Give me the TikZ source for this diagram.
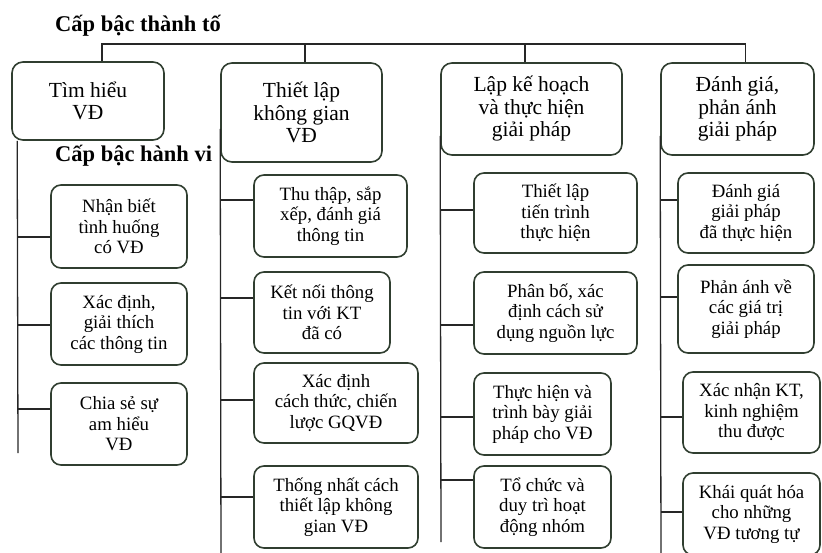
\documentclass[tikz,border=0pt]{standalone}
\usepackage{fontspec}
\setmainfont{Liberation Serif}
\usepackage{xcolor}
\usetikzlibrary{positioning}
\definecolor{boxline}{RGB}{48,62,48}
\tikzset{
    % Box styles
    top box/.style={rectangle, draw=boxline, line width=1.6pt, rounded corners=11pt,
                    align=center, inner sep=1pt, font=\fontsize{21.5}{22.5}\selectfont},
    act box/.style={top box, rounded corners=10pt, font=\fontsize{18.8}{20.5}\selectfont},
    % Line styles
    link/.style={draw=black!85, line width=1.3pt},
    heading/.style={anchor=base west, inner sep=0pt, font=\bfseries\fontsize{22.5}{24}\selectfont},
}

\begin{document}
\begin{tikzpicture}[x=1pt, y=-1pt]
    \clip (0,0) rectangle (822,552);

    % Headings
    \node[heading] (h1) at (55,31) {Cấp bậc thành tố};
    \node[heading] (h2) at (55,161) {Cấp bậc hành vi};

    % Component level
    \node[top box, minimum width=152, minimum height=78] (p1) at (88,101) {Tìm hiểu\\VĐ};
    \node[top box, minimum width=161, minimum height=99] (p2) at (301.5,112.5) {Thiết lập\\không gian\\VĐ};
    \node[top box, minimum width=181, minimum height=92] (p3) at (531.5,109) {Lập kế hoạch\\và thực hiện\\giải pháp};
    \node[top box, minimum width=153, minimum height=92] (p4) at (737.5,109) {Đánh giá,\\phản ánh\\giải pháp};

    % Behaviour level
    \node[act box, minimum width=136, minimum height=83] (c1a) at (119,226.5) {Nhận biết\\tình huống\\có VĐ};
    \node[act box, minimum width=136, minimum height=82] (c1b) at (119,324) {Xác định,\\giải thích\\các thông tin};
    \node[act box, minimum width=136, minimum height=82] (c1c) at (119,424) {Chia sẻ sự\\am hiểu\\VĐ};

    \node[act box, minimum width=153, minimum height=82] (c2a) at (330.5,216) {Thu thập, sắp\\xếp, đánh giá\\thông tin};
    \node[act box, minimum width=136, minimum height=81] (c2b) at (322,312.5) {Kết nối thông\\tin với KT\\đã có};
    \node[act box, minimum width=164, minimum height=80] (c2c) at (336,403) {Xác định\\cách thức, chiến\\lược GQVĐ};
    \node[act box, minimum width=164, minimum height=82] (c2d) at (336,507) {Thống nhất cách\\thiết lập không\\gian VĐ};

    \node[act box, minimum width=163, minimum height=80] (c3a) at (555.5,213) {Thiết lập\\tiến trình\\thực hiện};
    \node[act box, minimum width=163, minimum height=82] (c3b) at (555.5,313) {Phân bố, xác\\định cách sử\\dụng nguồn lực};
    \node[act box, minimum width=137, minimum height=82] (c3c) at (542.5,414) {Thực hiện và\\trình bày giải\\pháp cho VĐ};
    \node[act box, minimum width=137, minimum height=82] (c3d) at (542.5,507) {Tổ chức và\\duy trì hoạt\\động nhóm};

    \node[act box, minimum width=136, minimum height=80] (c4a) at (746,213) {Đánh giá\\giải pháp\\đã thực hiện};
    \node[act box, minimum width=136, minimum height=88] (c4b) at (746,309) {Phản ánh về\\các giá trị\\giải pháp};
    \node[act box, minimum width=137, minimum height=81] (c4c) at (751.5,412.5) {Xác nhận KT,\\kinh nghiệm\\thu được};
    \node[act box, minimum width=137, minimum height=82] (c4d) at (751.5,514) {Khái quát hóa\\cho những\\VĐ tương tự};

    % Bus on top
    \coordinate (bus) at (0,44);
    \draw[link] ([xshift=14pt]p1.north) |- ([xshift=8pt]p4.north |- bus) -- ([xshift=8pt]p4.north);
    \foreach \n/\s in {p2/3.5, p3/-6.5}
        \draw[link] ([xshift=\s pt]\n.north) -- ([xshift=\s pt]\n.north |- bus);

    % Trunks
    \coordinate (e1) at (18,453);
    \coordinate (e2) at (221,560);
    \coordinate (e3) at (441,542);
    \coordinate (e4) at (661,560);
    \draw[link] ([xshift=6pt]p1.south west) -- (e1);
    \draw[link] ([yshift=34pt]p2.south west) -- (e2);
    \draw[link] ([yshift=20pt]p3.south west) -- (e3);
    \draw[link] ([yshift=20pt]p4.south west) -- (e4);

    % Branches
    \foreach \c/\e/\y in {c1a/e1/237, c1b/e1/325, c1c/e1/409,
                          c2a/e2/200, c2b/e2/298, c2c/e2/400, c2d/e2/497,
                          c3a/e3/210, c3b/e3/325, c3c/e3/417, c3d/e3/480,
                          c4a/e4/200, c4b/e4/297, c4c/e4/417, c4d/e4/512}
        \draw[link] (\e |- 0,\y) -- (\c.west |- 0,\y);
\end{tikzpicture}
\end{document}
